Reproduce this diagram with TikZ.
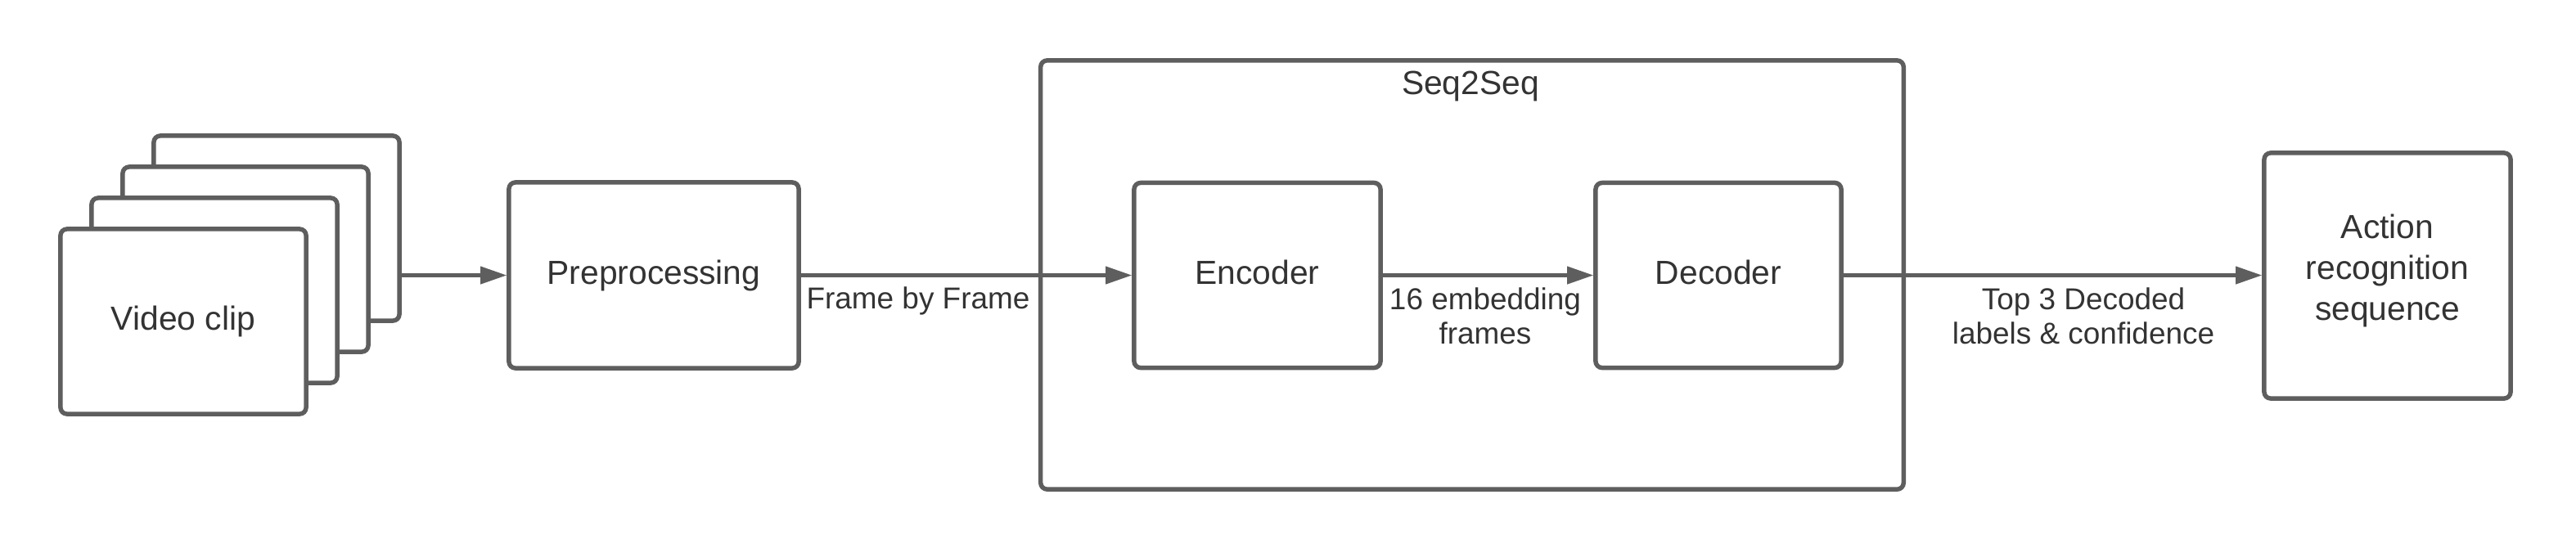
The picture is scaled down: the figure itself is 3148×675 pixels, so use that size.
\documentclass[tikz,border=0pt]{standalone}
\usepackage{fontspec}
\setmainfont{Liberation Sans}
\usetikzlibrary{arrows.meta}
\definecolor{linegray}{HTML}{5E5E5E}
\definecolor{textgray}{HTML}{333333}
\tikzset{
    block/.style={draw=linegray, line width=1.55pt, fill=white, rounded corners=0.08cm,
        text=textgray, align=center, font=\fontsize{11.6}{14.2}\selectfont},
    clipbox/.style={block, minimum width=3cm, minimum height=2.26cm},
    flow/.style={draw=linegray, line width=1.15pt, -{Triangle[length=0.32cm,width=0.21cm]}},
    flowlabel/.style={text=textgray, align=center, inner sep=0pt, font=\fontsize{10.5}{11.9}\selectfont}
}
\begin{document}
\begin{tikzpicture}[x=0.01cm, y=-0.01cm]
    \useasboundingbox (0,0) rectangle (3148,675);

    % video clip stack
    \node[clipbox] (clipd) at (338,279) {};
    \node[clipbox] (clipc) at (300,317) {};
    \node[clipbox] (clipb) at (262,355) {};
    \node[clipbox] (clipa) at (224,393) {Video clip};

    \node[block, minimum width=3.54cm, minimum height=2.27cm] (prep) at (799,336.5) {Preprocessing};

    % seq2seq container
    \node[block, minimum width=10.54cm, minimum height=5.24cm] (seq) at (1799,336) {};
    \node[text=textgray, font=\fontsize{11.6}{14.2}\selectfont] (seqtitle) at (1797,105) {Seq2Seq};

    \node[block, minimum width=3.01cm, minimum height=2.26cm] (enc) at (1536.5,336.5) {Encoder\vphantom{g}};
    \node[block, minimum width=3cm, minimum height=2.26cm] (dec) at (2100,336.5) {Decoder\vphantom{g}};

    \node[block, minimum width=3.01cm, minimum height=3cm, text depth=0.2cm] (act) at (2917.5,337) {Action\\recognition\\sequence};

    \draw[flow] (clipd.east |- prep.west) -- (prep.west);
    \draw[flow] (prep.east) -- (enc.west);
    \draw[flow] (enc.east) -- (dec.west);
    \draw[flow] (dec.east) -- (act.west |- dec.east);

    \node[flowlabel] (lblframe) at (1122,368) {Frame by Frame};
    \node[flowlabel] (lblembed) at (1815,386) {16 embedding\\frames};
    \node[flowlabel] (lbltop) at (2546,386) {Top 3 Decoded\\labels \& confidence};
\end{tikzpicture}
\end{document}
